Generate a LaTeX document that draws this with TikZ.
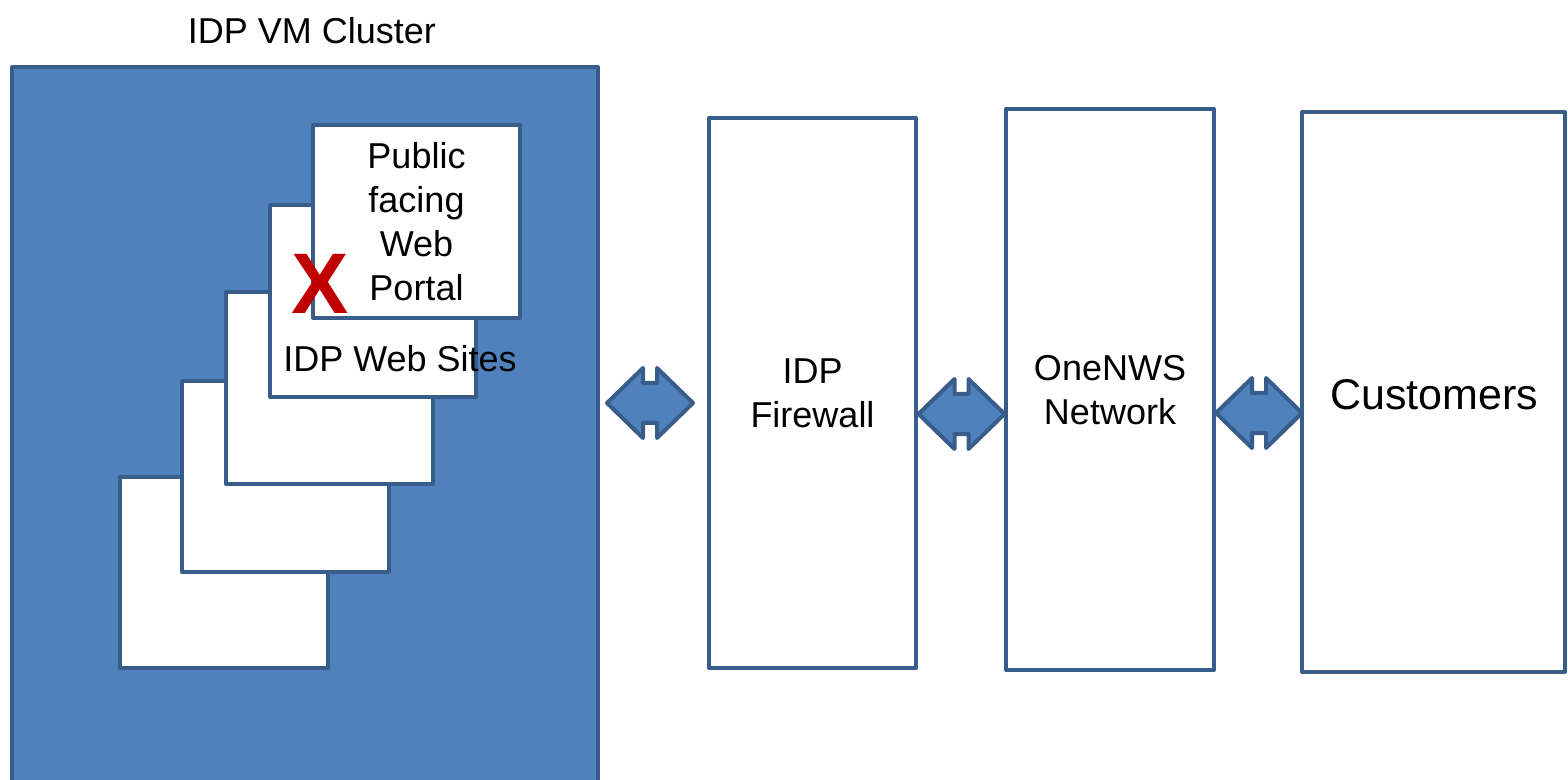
\documentclass[tikz,border=0pt]{standalone}
\usepackage{fontspec}
\setmainfont{Liberation Sans}
\usetikzlibrary{calc}
\definecolor{fillblue}{HTML}{4F81BD}
\definecolor{edgeblue}{HTML}{385D8A}
\definecolor{xred}{HTML}{C00000}
\tikzset{
  wbox/.style={draw=edgeblue, line width=2pt, fill=white, inner sep=0pt, rectangle, line join=round},
  lbl/.style={inner sep=0pt, align=center, font=\fontsize{18}{22}\selectfont},
  bigl/.style={inner sep=0pt, align=center, font=\fontsize{21.5}{26}\selectfont},
  blockarrow/.style={draw=edgeblue, line width=2pt, fill=fillblue, line join=round},
  pics/dblarrow/.style={code={
    \draw[blockarrow] (-43,0) -- (-7,-35) -- (-7,-20) -- (7,-20) -- (7,-35) -- (43,0)
      -- (7,35) -- (7,20) -- (-7,20) -- (-7,35) -- cycle;
  }}
}
\begin{document}
\begin{tikzpicture}[x=0.5pt,y=-0.5pt]
\useasboundingbox (0,0) rectangle (1568,780);
\clip (0,0) rectangle (1568,780);
% cluster
\draw[draw=edgeblue, line width=2pt, fill=fillblue, line join=round] (12,67) rectangle (598,820);
\node[lbl] (clusterlbl) at (312,30.5) {IDP VM Cluster};
% stacked boxes
\node[wbox, minimum width=104pt, minimum height=95.5pt] (b1) at (224,572.5) {};
\node[wbox, minimum width=103.5pt, minimum height=95.5pt] (b2) at (285.5,476.5) {};
\node[wbox, minimum width=103.5pt, minimum height=96pt] (b3) at (329.5,388) {};
\node[wbox, minimum width=103pt, minimum height=96pt] (b4) at (373,301) {};
\node[lbl] (websites) at (400,359) {IDP Web Sites};
\node[wbox, minimum width=103.5pt, minimum height=96.5pt, lbl] (b5) at (416.5,221.5) {Public\\facing\\Web\\Portal};
\node[inner sep=0pt, text=xred, font=\fontsize{43}{50}\bfseries\selectfont] (xmark) at (320,284) {X};
% right boxes
\node[wbox, minimum width=103.5pt, minimum height=275pt] (fw) at (812.5,393) {};
\node[lbl] (fwlbl) at (812.5,393.5) {IDP\\Firewall};
\node[wbox, minimum width=104pt, minimum height=280.5pt] (nws) at (1110,389.5) {};
\node[lbl] (nwslbl) at (1110,390) {OneNWS\\Network};
\node[wbox, minimum width=131.5pt, minimum height=280pt] (cust) at (1433.5,392) {};
\node[bigl] (custlbl) at (1434,394.5) {Customers};
% block arrows
\coordinate (a1) at (650,403);
\coordinate (a2) at (961.5,414);
\coordinate (a3) at (1259,413);
\pic at (a1) {dblarrow};
\pic at (a2) {dblarrow};
\pic at (a3) {dblarrow};
\end{tikzpicture}
\end{document}
